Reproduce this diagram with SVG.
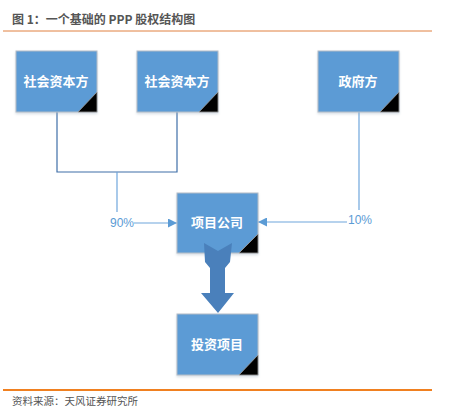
<svg xmlns="http://www.w3.org/2000/svg" width="461" height="418" viewBox="0 0 461 418">
<defs>
<style>
.box{fill:#5b9bd5;stroke:#b4bcc6;stroke-width:1}
.corner{fill:#000;stroke:#a0a0a0;stroke-width:0.8}
.lbl{font-family:"Noto Sans CJK SC","Liberation Sans",sans-serif;font-size:13px;font-weight:bold;fill:#fff;text-anchor:middle}
.pct{font-family:"Liberation Sans","Noto Sans CJK SC",sans-serif;font-size:12px;fill:#5b9bd5;text-anchor:middle}
.dark{fill:none;stroke:#3f6fa8;stroke-width:1.2}
.light{fill:none;stroke:#6fa6dc;stroke-width:1.2}
</style>
<marker id="ah" viewBox="0 0 10 10" refX="10" refY="5" markerWidth="9" markerHeight="9" markerUnits="userSpaceOnUse" orient="auto">
<path d="M0,0 L10,5 L0,10 z" fill="#5b9bd5"/>
</marker>
<filter id="sh" x="-10%" y="-10%" width="130%" height="130%">
<feDropShadow dx="0" dy="1.5" stdDeviation="1.2" flood-color="#9ab" flood-opacity="0.4"/>
</filter>
</defs>
<rect width="461" height="418" fill="#fff"/>
<text x="12" y="24" font-family="Noto Sans CJK SC,Liberation Sans,sans-serif" font-size="12" font-weight="bold" fill="#555">图 1：一个基础的 PPP 股权结构图</text>
<line x1="3" y1="31" x2="432" y2="31" stroke="#e08040" stroke-width="1"/>
<g id="connectors">
<path class="dark" d="M57,112 V172 H177 V112"/>
<path class="light" d="M117,172 V212"/>
<path class="light" d="M134,223 H177" marker-end="url(#ah)"/>
<path class="light" d="M359,112 V210"/>
<path class="light" d="M347,222 H258" marker-end="url(#ah)"/>
<text class="pct" x="122" y="227">90%</text>
<text class="pct" x="360" y="224">10%</text>
</g>
<g id="n1">
<rect class="box" x="16" y="51" width="81" height="61" filter="url(#sh)"/>
<path class="corner" d="M97,92 V112 H78 z"/>
<text class="lbl" x="56" y="86">社会资本方</text>
</g>
<g id="n2">
<rect class="box" x="137" y="51" width="81" height="61" filter="url(#sh)"/>
<path class="corner" d="M218,92 V112 H199 z"/>
<text class="lbl" x="177" y="86">社会资本方</text>
</g>
<g id="n3">
<rect class="box" x="318" y="51" width="81" height="61" filter="url(#sh)"/>
<path class="corner" d="M399,92 V112 H380 z"/>
<text class="lbl" x="358" y="86">政府方</text>
</g>
<g id="n4">
<rect class="box" x="177" y="193" width="81" height="60" filter="url(#sh)"/>
<path class="corner" d="M258,234 V253 H239 z"/>
<text class="lbl" x="217" y="227">项目公司</text>
</g>
<g id="bigarrow">
<path d="M204,243 L218,251 L232,243 L230,262 L225,268 V293 H234 L218,313 L201,293 H210 V268 L205,262 z" fill="#4a80bb"/>
</g>
<g id="n5">
<rect class="box" x="177" y="314" width="81" height="61" filter="url(#sh)"/>
<path class="corner" d="M258,355 V375 H239 z"/>
<text class="lbl" x="217" y="349">投资项目</text>
</g>
<line x1="3" y1="390" x2="432" y2="390" stroke="#f08020" stroke-width="2"/>
<text x="12" y="405" font-family="Noto Sans CJK SC,Liberation Sans,sans-serif" font-size="10.5" fill="#555">资料来源：天风证券研究所</text>
</svg>
